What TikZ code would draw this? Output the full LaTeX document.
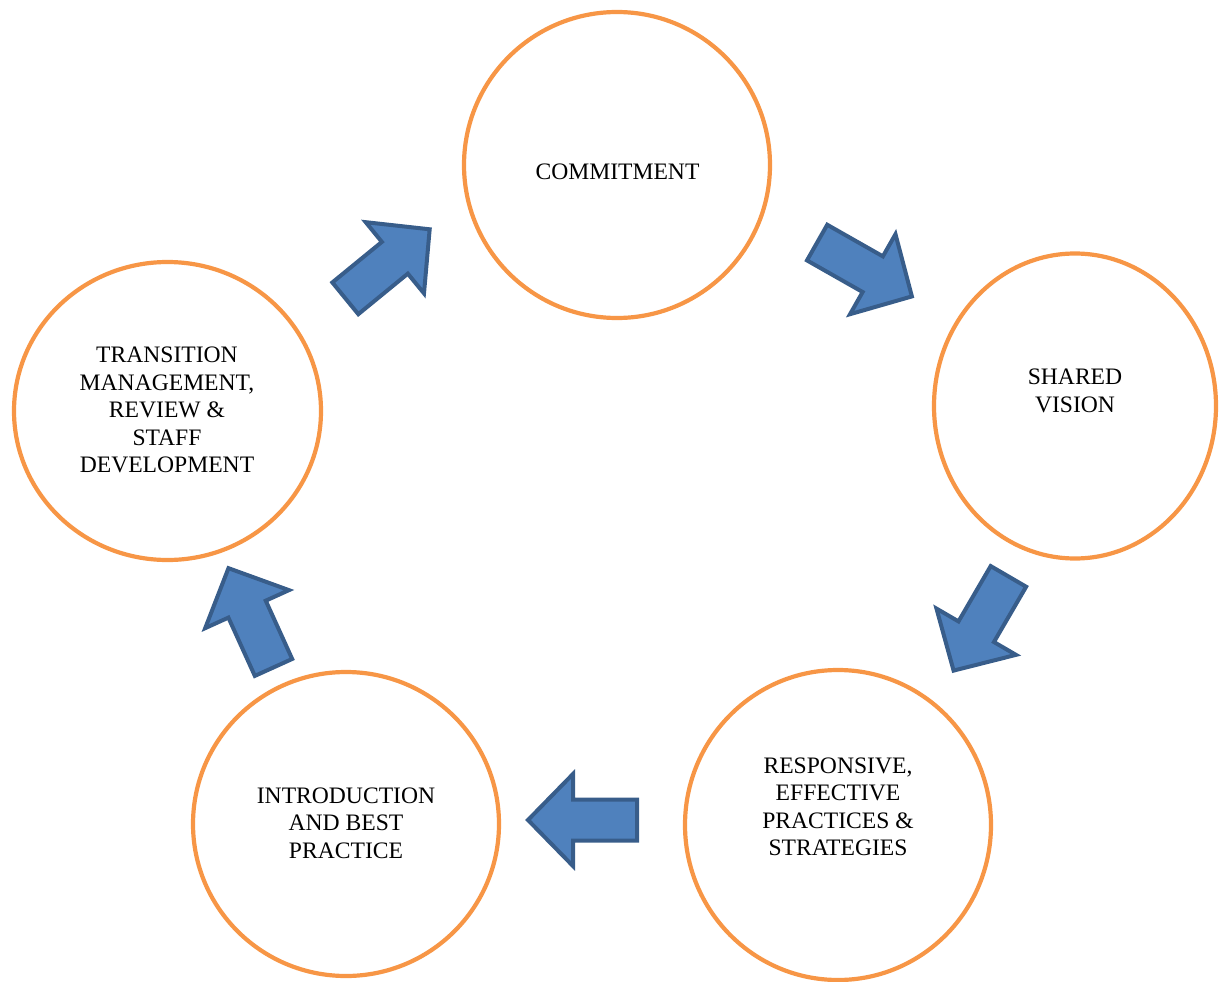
\documentclass[tikz,border=0pt]{standalone}
\usepackage{fontspec}
\setmainfont{Liberation Serif}
\usetikzlibrary{shapes.geometric,calc}
\definecolor{ringorange}{HTML}{F79646}
\definecolor{arrowfill}{HTML}{4F81BD}
\definecolor{arrowline}{HTML}{385D8A}
\tikzset{
  x=1pt, y=1pt,
  ring/.style={ellipse, draw=ringorange, line width=4.2pt, fill=white, inner sep=0pt},
  caption/.style={font=\fontsize{23.6}{27.5}\selectfont, align=center, text=black, inner sep=0pt},
  blockarrow/.style={fill=arrowfill, draw=arrowline, line width=4pt, line join=miter},
}
% block arrow pointing along +x, centred on the origin
\newcommand{\blockarrowpath}{%
  (-54.5,-20.5) -- (9.5,-20.5) -- (9.5,-46) -- (54.5,0) --
  (9.5,46) -- (9.5,20.5) -- (-54.5,20.5) -- cycle}
\begin{document}
\begin{tikzpicture}
\useasboundingbox (0,0) rectangle (1227,-982);

% stages of the cycle
\node[ring, minimum width=306, minimum height=306] (commit) at (617,-165) {};
\node[ring, minimum width=282, minimum height=305] (vision) at (1075,-406) {};
\node[ring, minimum width=306, minimum height=310] (respond) at (838,-825) {};
\node[ring, minimum width=306, minimum height=304] (intro) at (346,-824) {};
\node[ring, minimum width=307, minimum height=298] (transit) at (167.5,-411) {};

% stage captions
\node[caption] (commit-t) at (617.5,-172) {COMMITMENT};
\node[caption] (vision-t) at (1075,-391) {SHARED\\VISION};
\node[caption] (respond-t) at (838,-807) {RESPONSIVE,\\EFFECTIVE\\PRACTICES \&\\STRATEGIES};
\node[caption] (intro-t) at (346,-823) {INTRODUCTION\\AND BEST\\PRACTICE};
\node[caption] (transit-t) at (167,-410) {TRANSITION\\MANAGEMENT,\\REVIEW \&\\STAFF\\DEVELOPMENT};

% arrows between the stages
\coordinate (a1) at (387.5,-263.8);
\coordinate (a2) at (864.5,-269.5);
\coordinate (a3) at (981,-623.5);
\coordinate (a4) at (582.5,-820);
\coordinate (a5) at (251,-617.8);
\begin{scope}[shift={(a1)}, rotate=39.3]  \draw[blockarrow] \blockarrowpath; \end{scope}
\begin{scope}[shift={(a2)}, rotate=-29.6]  \draw[blockarrow] \blockarrowpath; \end{scope}
\begin{scope}[shift={(a3)}, rotate=-120.2] \draw[blockarrow] \blockarrowpath; \end{scope}
\begin{scope}[shift={(a4)}, rotate=180]    \draw[blockarrow] \blockarrowpath; \end{scope}
\begin{scope}[shift={(a5)}, rotate=114.4]  \draw[blockarrow] \blockarrowpath; \end{scope}
\end{tikzpicture}
\end{document}
